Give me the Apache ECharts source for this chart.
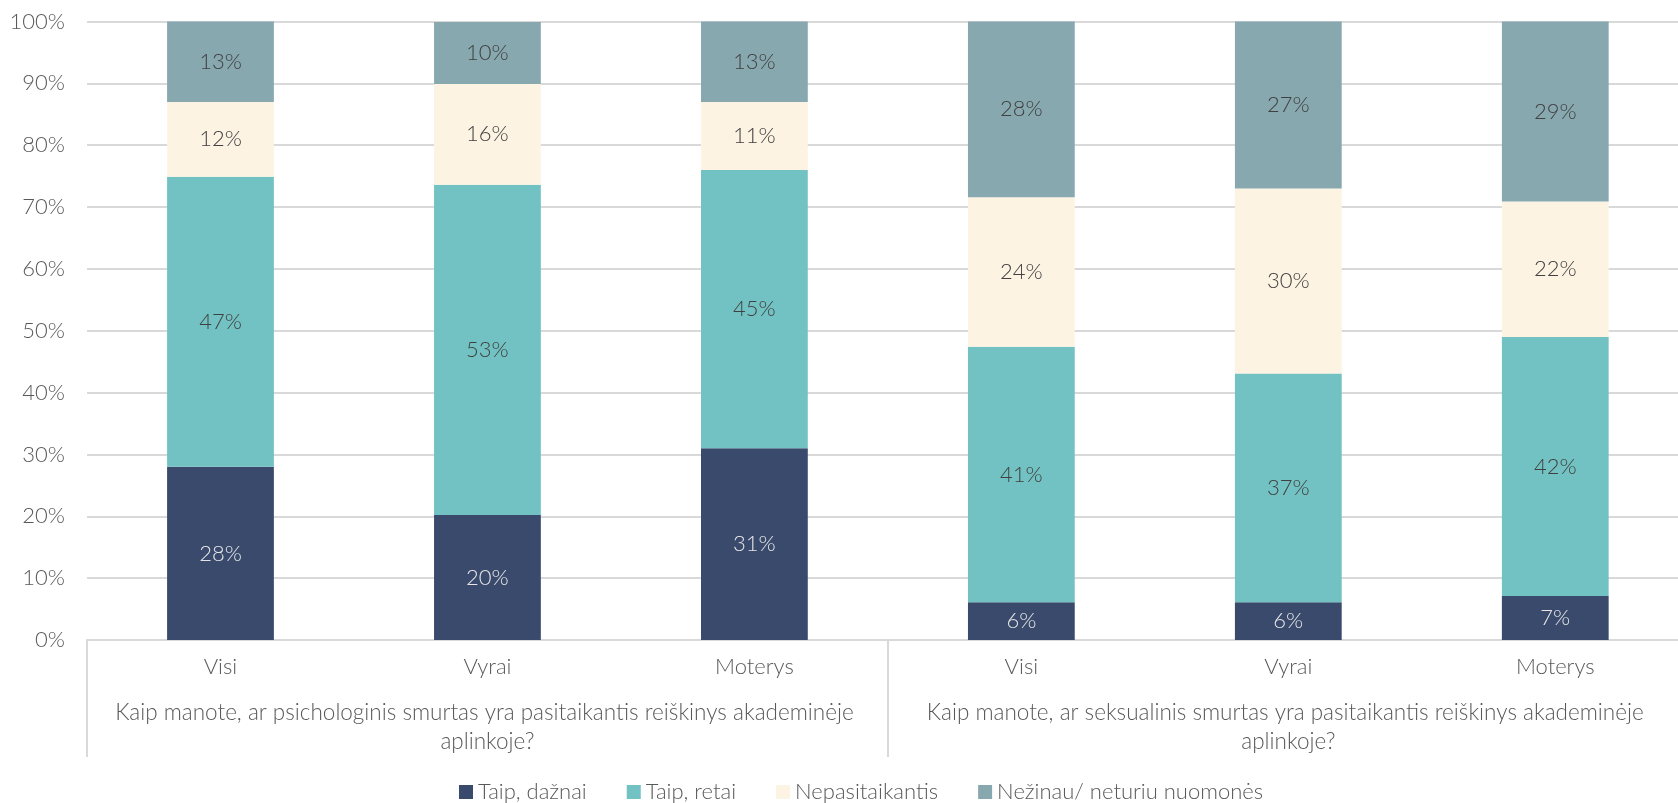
<!DOCTYPE html>
<html>
<head>
<meta charset="utf-8">
<script src="https://cdn.jsdelivr.net/npm/echarts@6/dist/echarts.min.js"></script>
<style>
html,body{margin:0;padding:0;background:#fff;overflow:hidden;width:1678px;height:803px;}
#chart{width:1690px;height:803px;}
</style>
</head>
<body>
<div id="chart"></div>
<script>
const categories = ['Visi', 'Vyrai', 'Moterys', 'Visi', 'Vyrai', 'Moterys'];
const groups = [
  'Kaip manote, ar psichologinis smurtas yra pasitaikantis reiškinys akademinėje aplinkoje?',
  'Kaip manote, ar seksualinis smurtas yra pasitaikantis reiškinys akademinėje aplinkoje?'
];
const seriesNames = ['Taip, dažnai', 'Taip, retai', 'Nepasitaikantis', 'Nežinau/ neturiu nuomonės'];
const taipDaznai = [28.0, 20.2, 31.0, 6.1, 6.1, 7.1];
const taipRetai = [46.9, 53.4, 45.0, 41.3, 37.0, 41.9];
const nepasitaikantis = [12.1, 16.3, 11.0, 24.2, 29.9, 21.9];
const nezinau = [13.0, 10.0, 13.0, 28.4, 27.0, 29.1];
const yTicks = ['0%', '10%', '20%', '30%', '40%', '50%', '60%', '70%', '80%', '90%', '100%'];

const FONT = 'Lato';
const TXT = '#595959';
const colors = ['#3a4a6c', '#73c2c3', '#fdf3e3', '#88a8b0'];
const labelColors = ['#e6e6e6', '#404040', '#404040', '#404040'];
const values = [taipDaznai, taipRetai, nepasitaikantis, nezinau];

const chart = echarts.init(document.getElementById('chart'));
chart.setOption({
  animation: false,
  textStyle: { fontFamily: FONT },
  grid: { left: 87, right: 0, top: 21.5, bottom: 163, containLabel: false },
  legend: {
    left: 454, top: 776,
    itemWidth: 14, itemHeight: 14, itemGap: 40,
    icon: 'rect',
    textStyle: { fontFamily: FONT, fontSize: 22, color: TXT, fontWeight: 300 },
    data: seriesNames
  },
  xAxis: [
    {
      type: 'category', data: categories, position: 'bottom',
      axisLine: { show: true, lineStyle: { color: '#d9d9d9', width: 2 } },
      axisTick: { show: false },
      axisLabel: { fontFamily: FONT, fontSize: 22, color: TXT, fontWeight: 300, margin: 16, interval: 0 }
    },
    {
      type: 'category', data: groups, position: 'bottom',
      axisLine: { show: false },
      axisTick: { show: true, length: 117, inside: false, interval: 0, lineStyle: { color: '#d9d9d9', width: 2 } },
      axisLabel: {
        fontFamily: FONT, fontSize: 22.5, color: TXT, fontWeight: 300, margin: 58, interval: 0,
        width: 798, overflow: 'break', lineHeight: 29, align: 'center'
      }
    }
  ],
  yAxis: {
    type: 'value', min: 0, max: 100, interval: 10,
    axisLine: { show: false }, axisTick: { show: false },
    splitLine: { lineStyle: { color: '#d9d9d9', width: 2 } },
    axisLabel: {
      fontFamily: FONT, fontSize: 22, color: TXT, fontWeight: 300, margin: 22,
      formatter: (v) => yTicks[Math.round(v / 10)]
    }
  },
  series: values.map((arr, i) => ({
    name: seriesNames[i], type: 'bar', stack: 'total', data: arr,
    xAxisIndex: 0, barWidth: '40%',
    itemStyle: { color: colors[i] },
    label: {
      show: true, position: 'inside', fontFamily: FONT, fontSize: 22, fontWeight: 300,
      color: labelColors[i],
      formatter: (p) => Math.round(p.value) + '%'
    }
  }))
});
</script>
</body>
</html>
